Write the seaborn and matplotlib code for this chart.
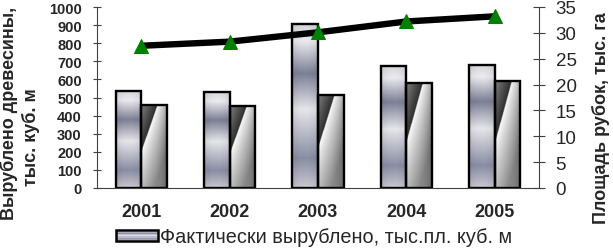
import numpy as np
import pandas as pd
import matplotlib
matplotlib.use("Agg")
import matplotlib.pyplot as plt
import seaborn as sns
from matplotlib.colors import LinearSegmentedColormap
from matplotlib.legend_handler import HandlerBase
from matplotlib.patches import Rectangle

# ---- data ----
years = ["2001", "2002", "2003", "2004", "2005"]
felled_actual = [536, 532, 906, 676, 681]
felled_second = [459, 453, 515, 580, 591]
area_felled = [27.5, 28.3, 30.1, 32.2, 33.2]
left_ticks = list(range(0, 1001, 100))
right_ticks = list(range(0, 36, 5))
label_actual = "Фактически вырублено, тыс.пл. куб. м"
label_second = "Вырублено (второй ряд)"

sns.set_style("white")
plt.rcParams["font.family"] = ["Liberation Sans", "DejaVu Sans"]

fig = plt.figure(figsize=(6.13, 2.51), dpi=100)
ax = fig.add_axes([97 / 613, 1 - 189 / 251, (539 - 97) / 613, (189 - 8) / 251])

df = pd.DataFrame({
    "year": years * 2,
    "value": felled_actual + felled_second,
    "series": [label_actual] * len(years) + [label_second] * len(years),
})
sns.barplot(data=df, x="year", y="value", hue="series", width=0.58, gap=0,
            palette=["#c0c0c8", "#909090"], edgecolor="black", linewidth=1.7,
            legend=False, ax=ax, saturation=1)

# metallic gradients
cmap1 = LinearSegmentedColormap.from_list("m1", [
    (0.0, "#d4d4da"), (0.1, "#ebebef"), (0.3, "#7c8096"), (0.52, "#e6e6ea"),
    (0.82, "#8a8ea4"), (1.0, "#c8c8d0")])

def grad1():
    t = np.linspace(0, 1, 200)[:, None]
    u = np.linspace(0, 1, 40)[None, :]
    img = cmap1(t * np.ones_like(u))[..., :3]
    shade = 1 - 0.08 * (np.abs(u - 0.5) * 2) ** 2
    return img * shade[..., None]

def grad2():
    t = np.linspace(0, 1, 200)[:, None]
    u = np.linspace(0, 1, 60)[None, :]
    d = u - 0.65 + 1.14 * t
    left = 0.18 + 0.32 * np.clip(-d / 0.65, 0, 1)
    right = 1 - 0.45 * np.clip(d, 0, 1) ** 0.8 - 0.15 * u ** 4
    v = np.where(d < 0, left, right)
    return np.clip(np.dstack([v, v, v]), 0, 1)

g1, g2 = grad1(), grad2()
for ci, cont in enumerate(ax.containers):
    for bar in cont:
        x0, y0 = bar.get_x(), bar.get_y()
        w, h = bar.get_width(), bar.get_height()
        im = ax.imshow(g1 if ci == 0 else g2, extent=[x0, x0 + w, y0, y0 + h],
                       aspect="auto", origin="upper", zorder=1.5,
                       interpolation="bilinear")
        im.set_clip_path(bar)
        bar.set_facecolor("none")
        bar.set_zorder(2)

ax.set_xlim(-0.5, 4.5)
ax.set_ylim(0, 1000)
ax.set_yticks(left_ticks, [str(v) for v in left_ticks], fontsize=10.5, fontweight="bold")
ax.set_xticks(range(len(years)), years, fontsize=13, fontweight="bold")
ax.set_xticks(np.arange(0.5, len(years) - 1, 1), minor=True)
ax.set_xlabel("")
ax.set_ylabel("")
ax.tick_params(axis="x", which="major", length=0, pad=11)
ax.tick_params(axis="x", which="minor", direction="inout", length=8, width=0.8, color="#404040")
ax.tick_params(axis="y", direction="inout", length=6, width=0.8, color="#404040", pad=8, left=True)
for s in ["top", "right"]:
    ax.spines[s].set_visible(False)
for s in ["left", "bottom"]:
    ax.spines[s].set_color("#404040")
    ax.spines[s].set_linewidth(0.8)

ax2 = ax.twinx()
sns.lineplot(x=np.arange(len(years)), y=area_felled, ax=ax2, color="black",
             linewidth=4.6, marker="^", markersize=10.5, markerfacecolor="#008000",
             markeredgecolor="#008000", solid_capstyle="butt")
ax2.set_ylim(0, 35)
ax2.set_yticks(right_ticks, [str(v) for v in right_ticks], fontsize=13.5)
ax2.tick_params(axis="y", direction="inout", length=8, width=0.8, color="#404040", pad=8, right=True)
for s in ["top", "left", "bottom"]:
    ax2.spines[s].set_visible(False)
ax2.spines["right"].set_color("#404040")
ax2.spines["right"].set_linewidth(0.8)
ax2.set_ylabel("")
ax.set_xlim(-0.5, 4.5)

# axis titles
fig.text(9 / 613, 1 - 113 / 251, "Вырублено древесины,", rotation=90, ha="center",
         va="center", fontsize=13, fontweight="bold")
fig.text(31 / 613, 1 - 137 / 251, "тыс. куб. м", rotation=90, ha="center",
         va="center", fontsize=13, fontweight="bold")
fig.text(601 / 613, 1 - 118 / 251, "Площадь рубок, тыс. га", rotation=90, ha="center",
         va="center", fontsize=13, fontweight="bold")

class GradHandler(HandlerBase):
    def create_artists(self, legend, orig_handle, xdescent, ydescent, width, height,
                       fontsize, trans):
        arts = []
        n = 10
        for i in range(n):
            c = cmap1(i / (n - 1))
            arts.append(Rectangle((-xdescent, -ydescent + height * (n - 1 - i) / n),
                                  width, height / n, facecolor=c, edgecolor="none",
                                  transform=trans))
        arts.append(Rectangle((-xdescent, -ydescent), width, height, facecolor="none",
                              edgecolor="black", linewidth=1.8, transform=trans))
        return arts

handle = Rectangle((0, 0), 1, 1)
fig.legend([handle], [label_actual], handler_map={Rectangle: GradHandler()},
           loc="center", bbox_to_anchor=(314 / 613, 1 - 238 / 251), frameon=False,
           fontsize=14.3, handlelength=2.1, handleheight=0.45, handletextpad=0.1,
           borderpad=0, borderaxespad=0)

fig.savefig("out.png", dpi=100)
